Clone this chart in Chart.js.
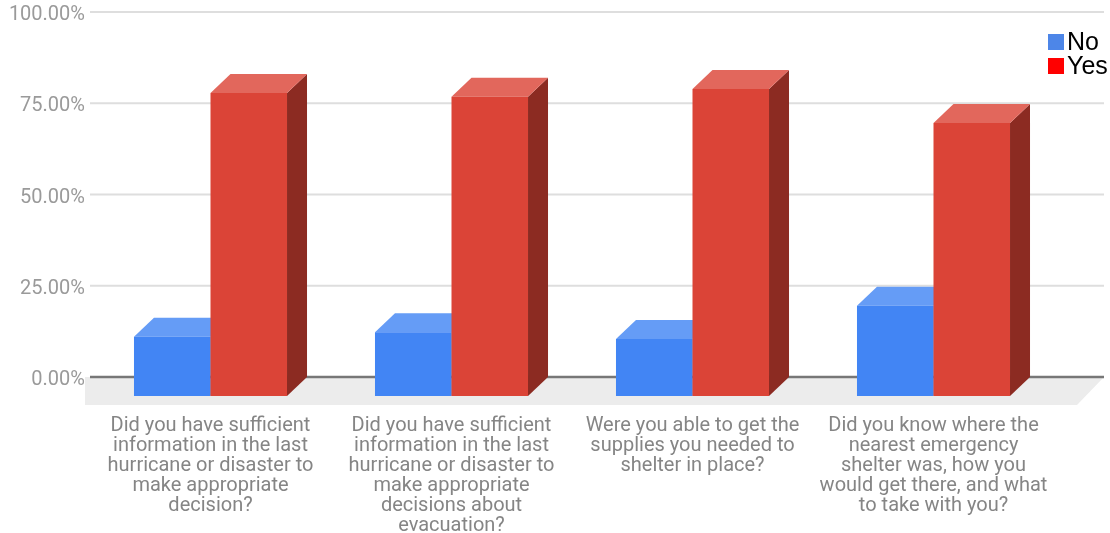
<!DOCTYPE html>
<html>
<head>
<meta charset="utf-8">
<title>Hurricane survey</title>
<script src="https://cdn.jsdelivr.net/npm/chart.js@4"></script>
<style>
  html, body { margin: 0; padding: 0; background: #fff; }
  #wrap { position: relative; width: 1110px; height: 533px; overflow: hidden; }
  #legend { position: absolute; left: 1048px; top: 29px; font: 25px/24px "Liberation Sans", sans-serif; color: #000; }
  #legend div { height: 24px; white-space: nowrap; }
  #legend span { display: inline-block; width: 16px; height: 16px; margin-right: 3px; vertical-align: 0; }
</style>
</head>
<body>
<div id="wrap">
  <canvas id="myChart" width="1110" height="533"></canvas>
  <div id="legend"></div>
</div>
<script>
'use strict';
let categories = [
  ['Did you have sufficient', 'information in the last', 'hurricane or disaster to', 'make appropriate', 'decision?'],
  ['Did you have sufficient', 'information in the last', 'hurricane or disaster to', 'make appropriate', 'decisions about', 'evacuation?'],
  ['Were you able to get the', 'supplies you needed to', 'shelter in place?'],
  ['Did you know where the', 'nearest emergency', 'shelter was, how you', 'would get there, and what', 'to take with you?']
];
let noValues = [16.2, 17.5, 15.6, 24.7];
let yesValues = [83.0, 82.0, 84.1, 74.8];
let yTicks = [0, 25, 50, 75, 100];
let seriesNames = ['No', 'Yes'];
let legendColors = ['#4d86e8', '#ff0000'];

// depth of the fake 3d box
let depthX = 20;
let depthY = 19;
let faces = [
  { front: '#4285f4', top: '#659cf6', side: '#3264b8' },
  { front: '#db4437', top: '#e2675c', side: '#8c2b22' }
];

let boxes3d = {
  id: 'boxes3d',
  beforeDatasetsDraw(chart) {
    let ctx = chart.ctx;
    let area = chart.chartArea;
    let y = chart.scales.y;

    // floor
    ctx.fillStyle = '#ececec';
    ctx.beginPath();
    ctx.moveTo(area.left - 5, area.bottom);
    ctx.lineTo(area.right + 50, area.bottom);
    ctx.lineTo(area.right + 23, area.bottom + 28);
    ctx.lineTo(area.left - 5, area.bottom + 28);
    ctx.closePath();
    ctx.fill();

    // gridlines run on along the back wall
    yTicks.forEach(function (t) {
      ctx.strokeStyle = t === 0 ? '#777777' : '#dedede';
      ctx.lineWidth = t === 0 ? 2.5 : 2;
      ctx.beginPath();
      ctx.moveTo(area.left, y.getPixelForValue(t));
      ctx.lineTo(area.right + 50, y.getPixelForValue(t));
      ctx.stroke();
    });

    for (let i = 0; i < chart.data.datasets.length; i++) {
      let meta = chart.getDatasetMeta(i);
      meta.data.forEach(function (bar) {
        let left = bar.x - bar.width / 2;
        let right = bar.x + bar.width / 2;
        ctx.fillStyle = faces[i].side;
        ctx.beginPath();
        ctx.moveTo(right, bar.y + depthY);
        ctx.lineTo(right + depthX, bar.y);
        ctx.lineTo(right + depthX, bar.base);
        ctx.lineTo(right, bar.base + depthY);
        ctx.closePath();
        ctx.fill();
        ctx.fillStyle = faces[i].top;
        ctx.beginPath();
        ctx.moveTo(left, bar.y + depthY);
        ctx.lineTo(left + depthX, bar.y);
        ctx.lineTo(right + depthX, bar.y);
        ctx.lineTo(right, bar.y + depthY);
        ctx.closePath();
        ctx.fill();
      });
      // front face, pushed down onto the floor
      ctx.save();
      ctx.translate(0, depthY);
      meta.controller.draw();
      ctx.restore();
    }
    return false;
  }
};

let ctx = document.getElementById('myChart').getContext('2d');
let myChart = new Chart(ctx, {
  type: 'bar',
  data: {
    labels: categories,
    datasets: [
      { label: seriesNames[0], data: noValues, backgroundColor: faces[0].front, borderWidth: 0 },
      { label: seriesNames[1], data: yesValues, backgroundColor: faces[1].front, borderWidth: 0 }
    ]
  },
  options: {
    responsive: false,
    animation: false,
    layout: { padding: { top: 12, right: 56 } },
    datasets: { bar: { categoryPercentage: 0.635, barPercentage: 1 } },
    plugins: { legend: { display: false }, tooltip: { enabled: false } },
    scales: {
      x: {
        grid: { display: false, tickLength: 0 },
        border: { display: false },
        afterFit: function (scale) { scale.height = 156; },
        ticks: {
          maxRotation: 0,
          autoSkip: false,
          padding: 39,
          color: '#858585',
          font: { family: 'Roboto', size: 20, lineHeight: 1 }
        }
      },
      y: {
        min: 0,
        max: 100,
        grid: { display: false, tickLength: 0 },
        border: { display: false },
        afterFit: function (scale) {
          scale.width = 90;
          scale.paddingTop = 0;
          scale.paddingBottom = 0;
        },
        afterBuildTicks: function (scale) { scale.ticks = yTicks.map(function (v) { return { value: v }; }); },
        ticks: {
          padding: 5,
          labelOffset: 3,
          color: '#9a9a9a',
          font: { family: 'Roboto', size: 20 },
          callback: function (v) { return v.toFixed(2) + '%'; }
        }
      }
    }
  },
  plugins: [boxes3d]
});

let legend = document.getElementById('legend');
seriesNames.forEach(function (name, i) {
  let row = document.createElement('div');
  let box = document.createElement('span');
  box.style.background = legendColors[i];
  row.appendChild(box);
  row.appendChild(document.createTextNode(name));
  legend.appendChild(row);
});
</script>
</body>
</html>
